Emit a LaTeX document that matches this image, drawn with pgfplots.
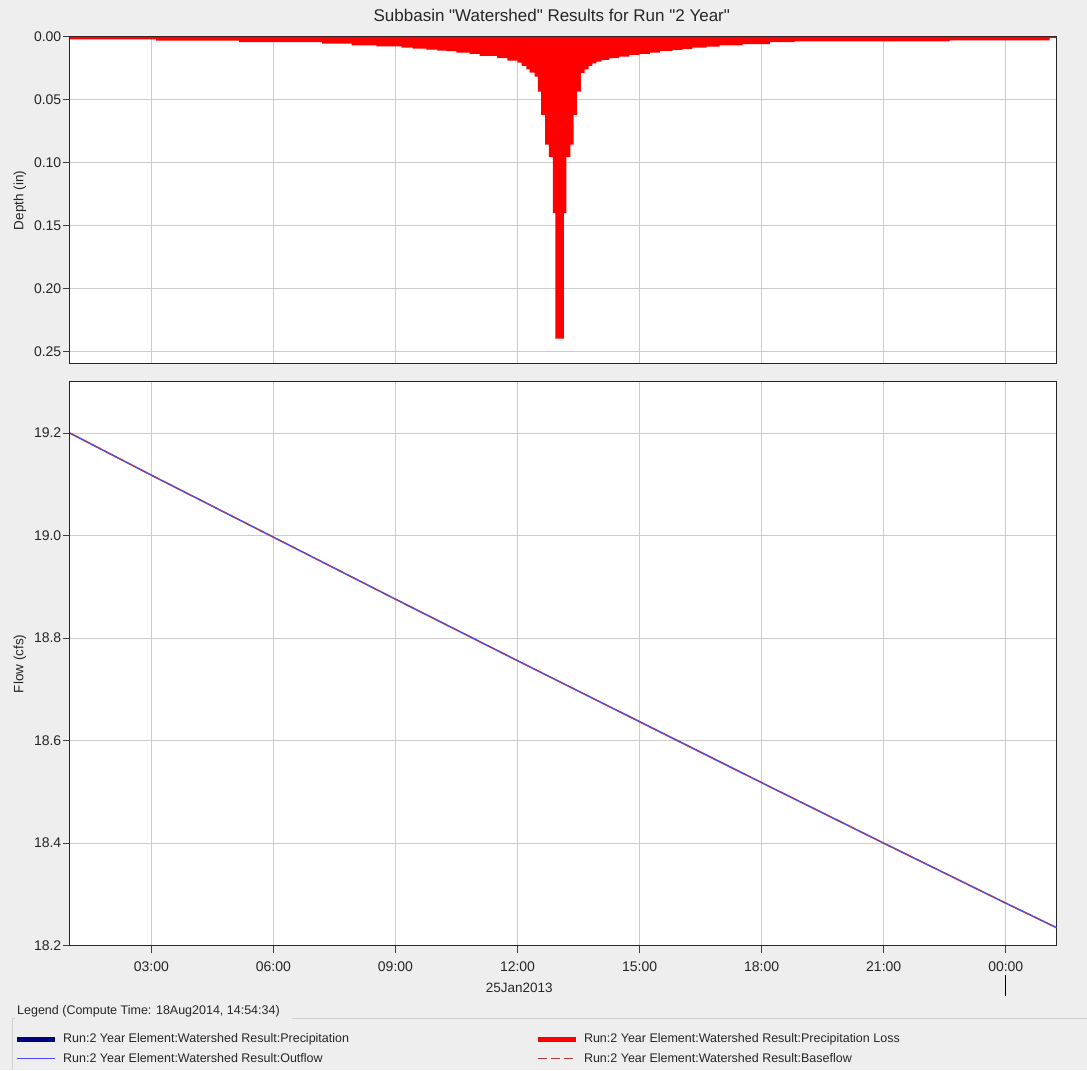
\documentclass[border=0pt]{standalone}
\usepackage{fontspec}
\setmainfont{Liberation Sans}[Ligatures=TeXOff]
\usepackage{pgfplots}
\pgfplotsset{compat=1.18}

\definecolor{panelbg}{HTML}{EEEEEE}
\definecolor{gridgray}{HTML}{CCCCCC}
\definecolor{precip}{HTML}{000080}
\definecolor{outflow}{HTML}{4B4BFF}
\definecolor{baseflow}{HTML}{B03A3A}

\pgfplotsset{
  hms/.style={
    scale only axis, width=987pt, xmin=1, xmax=25.25,
    xtick={3,6,...,24},
    grid=major, major grid style={draw=gridgray, line width=1pt},
    axis line style={draw=black!85, line width=1pt},
    axis background/.style={fill=white},
    tick align=outside, tick pos=left, major tick length=7pt,
    tick style={black!75, line width=1pt},
    tick label style={font=\fontsize{14}{16}\selectfont, text=black!85},
    /pgf/number format/assume math mode=true,
    every axis y label/.style={at={(axis description cs:-0.0507,0.5)}, rotate=90, anchor=center,
      font=\fontsize{13.5}{15}\selectfont, text=black!85},
    every axis x label/.style={at={(axis description cs:0.4554,0)}, anchor=center, yshift=-42pt,
      font=\fontsize{13.5}{15}\selectfont, text=black!85},
    yticklabel style={inner sep=0pt, xshift=-1.5pt},
  }
}

\begin{document}
\begin{tikzpicture}
\fill[panelbg] (0pt,0pt) rectangle (1087pt,-1070pt);

\node[font=\fontsize{17}{19}\selectfont, text=black!85] at (552pt,-15pt) {Subbasin "Watershed" Results for Run "2 Year"};

% precipitation (depth) panel
\begin{axis}[hms, at={(70pt,-37pt)}, anchor=north west, height=327pt,
  ymin=0, ymax=0.26, y dir=reverse,
  ytick={0,0.05,0.1,0.15,0.2,0.25},
  yticklabel style={/pgf/number format/.cd, fixed, fixed zerofill, precision=2},
  xticklabels={}, xtick style={draw=none},
  ylabel={Depth (in)}]
\addplot[const plot, fill=red, draw=none] coordinates {
(1.0,0.0018) (3.12,0.0029) (5.16,0.0040) (7.2,0.0053) (7.92,0.0066) (8.53,0.0074)
(9.15,0.0085) (9.42,0.0093) (9.76,0.0101) (10.03,0.0108) (10.25,0.0113) (10.5,0.0124)
(10.82,0.0135) (11.07,0.0151) (11.5,0.0169) (11.75,0.0188) (12.0,0.0204) (12.1,0.0230)
(12.22,0.0257) (12.3,0.0283) (12.42,0.0315) (12.5,0.0434) (12.58,0.0619) (12.68,0.0857)
(12.77,0.0955) (12.87,0.1400) (12.93,0.2400) (13.14,0.1400) (13.2,0.0955) (13.3,0.0857)
(13.38,0.0619) (13.46,0.0434) (13.56,0.0286) (13.65,0.0257) (13.75,0.0230) (13.84,0.0209)
(13.94,0.0196) (14.07,0.0183) (14.26,0.0169) (14.5,0.0156) (14.75,0.0143) (15.0,0.0135)
(15.25,0.0124) (15.5,0.0111) (15.81,0.0103) (16.06,0.0095) (16.3,0.0085) (16.65,0.0077)
(16.97,0.0066) (17.53,0.0056) (18.2,0.0040) (18.81,0.0034) (22.62,0.0026) (25.08,0.0010)
(25.25,0.0010)
} \closedcycle;
\end{axis}

% flow panel
\begin{axis}[hms, at={(70pt,-382pt)}, anchor=north west, height=564pt,
  ymin=18.2, ymax=19.3,
  ytick={18.2,18.4,18.6,18.8,19.0,19.2},
  yticklabel style={/pgf/number format/.cd, fixed, fixed zerofill, precision=1},
  xticklabels={03:00,06:00,09:00,12:00,15:00,18:00,21:00,00:00},
  xticklabel style={inner sep=0pt, yshift=-9pt},
  ylabel={Flow (cfs)}, xlabel={25Jan2013},
  clip=false,
  legend columns=2, legend cell align=left,
  legend image code/.code={\draw[#1] (0pt,0pt) -- (38pt,0pt);},
  legend style={at={(axis description cs:0,0)}, anchor=north west, xshift=-56pt, yshift=-88pt,
    draw=none, fill=none, inner sep=0pt, font=\fontsize{12.5}{14}\selectfont, text=black!85,
    nodes={inner sep=0pt}, row sep=9pt,
    /tikz/every odd column/.append style={column sep=6pt},
    /tikz/every even column/.append style={column sep=186pt}}]
\addlegendimage{precip, line width=5pt}
\addlegendentry{Run:2 Year Element:Watershed Result:Precipitation}
\addlegendimage{red, line width=5pt}
\addlegendentry{Run:2 Year Element:Watershed Result:Precipitation Loss}
\addplot[outflow, line width=1.6pt] coordinates {
(1,19.200) (3,19.118) (6,18.997) (9,18.876) (12,18.756) (15,18.637) (18,18.518) (21,18.400) (24,18.283) (25.25,18.235)};
\addlegendentry{Run:2 Year Element:Watershed Result:Outflow}
\addplot[baseflow, line width=0.9pt, dash pattern=on 9pt off 4pt] coordinates {
(1,19.200) (3,19.118) (6,18.997) (9,18.876) (12,18.756) (15,18.637) (18,18.518) (21,18.400) (24,18.283) (25.25,18.235)};
\addlegendentry{Run:2 Year Element:Watershed Result:Baseflow}
\draw[black, line width=1pt] (axis cs:24,18.2) ++(0pt,-29pt) -- ++(0pt,-21pt);
\end{axis}

\node[anchor=west, inner sep=0pt, font=\fontsize{12.5}{14}\selectfont, text=black!85] at (17pt,-1012pt) {Legend (Compute Time: 18Aug2014, 14:54:34)};
\draw[black!18, line width=0.8pt] (12pt,-1070pt) -- (12pt,-1019pt) -- (15pt,-1019pt);
\draw[black!18, line width=0.8pt] (292pt,-1019pt) -- (1087pt,-1019pt);
\end{tikzpicture}
\end{document}
